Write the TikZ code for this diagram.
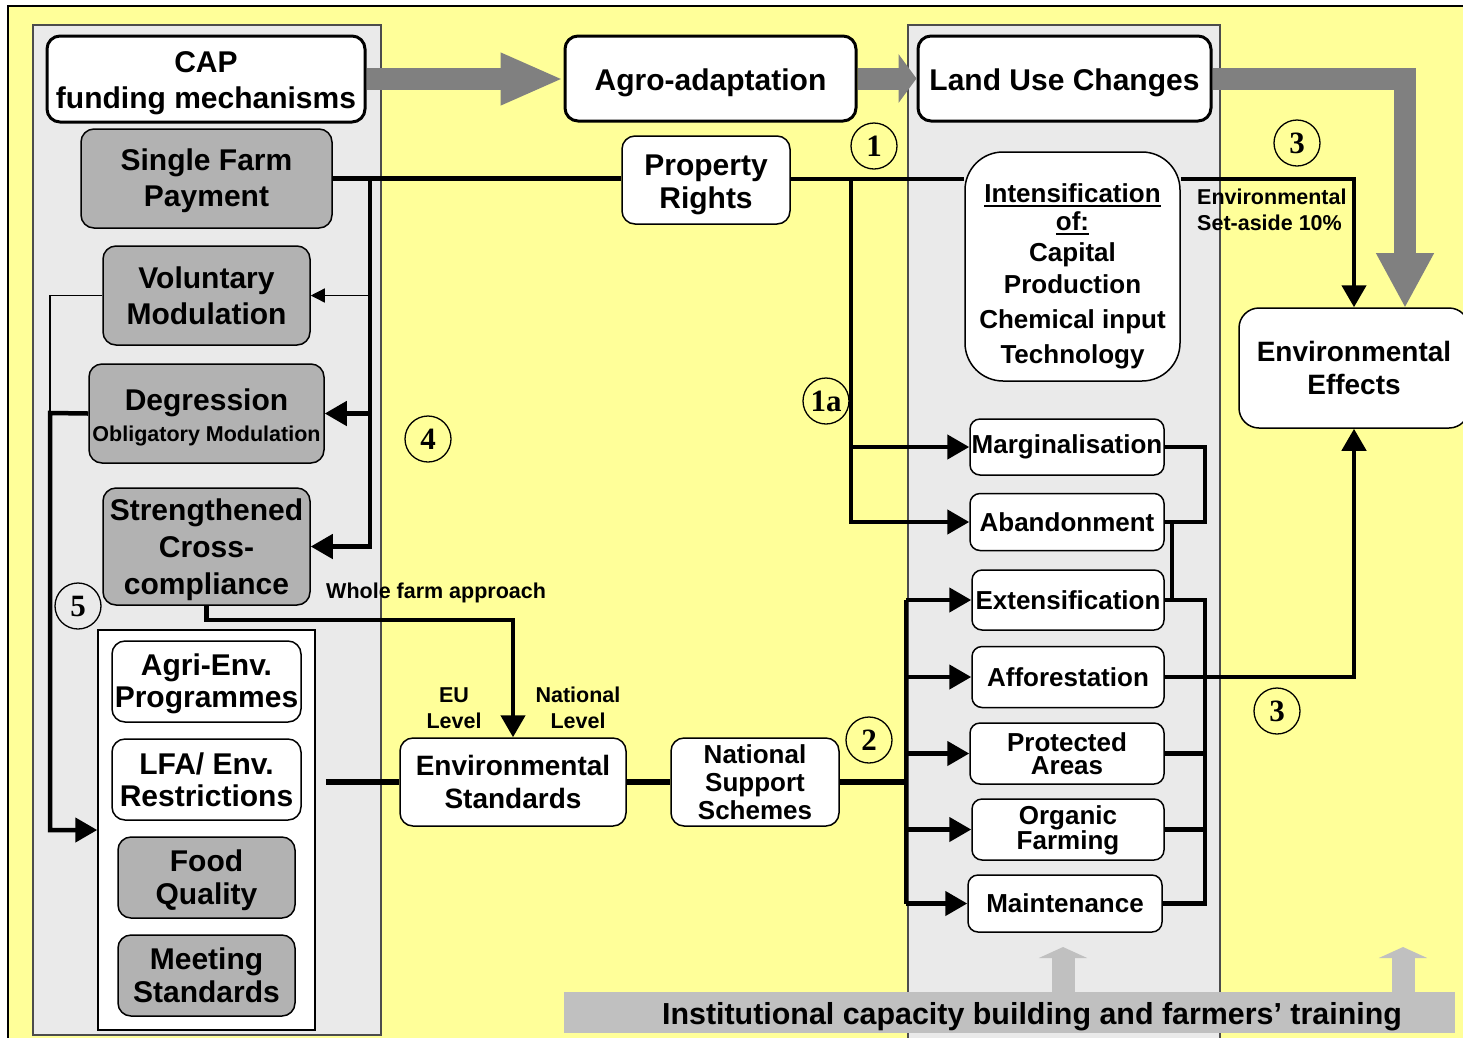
\documentclass[tikz,border=0pt]{standalone}
\usepackage{fontspec}
\setmainfont{Liberation Sans}
\newfontfamily\numfont{Liberation Serif}
\usetikzlibrary{arrows.meta}
\definecolor{bgyellow}{RGB}{255,255,153}
\definecolor{panelgray}{RGB}{234,234,234}
\definecolor{boxgray}{RGB}{178,178,178}
\definecolor{arrgray}{RGB}{128,128,128}
\definecolor{bargray}{RGB}{192,192,192}
\newcommand{\fsz}[2]{\fontsize{#1}{#2}\selectfont\bfseries}
\newcommand{\myul}[1]{\vtop{\hbox{#1}\kern2pt\hrule height 2pt}}
\newcommand{\st}[1]{\rule{0pt}{#1}}
\begin{document}
\begin{tikzpicture}[x=1pt,y=-1pt,
  box/.style={draw=black, line width=1.5pt, rounded corners=13pt, fill=white, align=center, inner sep=0pt, font=\fsz{30}{36}},
  gbox/.style={box, fill=boxgray},
  tbox/.style={box, line width=3pt},
  lu/.style={box, font=\fsz{26}{28}, rounded corners=10pt},
  conn/.style={line width=4.5pt},
  arr/.style={conn, -{Triangle[length=22pt,width=24pt]}},
  thinarr/.style={line width=1.3pt, -{Triangle[length=14pt,width=14pt]}},
  num/.style={circle, draw, line width=1.3pt, minimum size=46pt, inner sep=0pt, font=\numfont\bfseries\fontsize{31}{31}\selectfont},
  lab/.style={font=\fsz{21.5}{26}, align=center, inner sep=0pt},
  garr/.style={line width=22pt, draw=arrgray},
  panel/.style={line width=1.2pt, draw=black!70, fill=panelgray}
]
\useasboundingbox (0,0) rectangle (1463,1037);
\clip (0,0) rectangle (1463,1037);
\fill[white] (0,0) rectangle (1463,1037);
\draw[line width=1.5pt, fill=bgyellow] (8,6) rectangle (1480,1050);
\draw[panel] (33,25) rectangle (381,1035);
\draw[panel] (908,25) rectangle (1220,1045);

% left column
\node[tbox, minimum width=318pt, minimum height=86pt] (CAP) at (206,79) {\st{30pt}CAP\\funding mechanisms};
\node[gbox, minimum width=251pt, minimum height=99pt] (SFP) at (206.5,178.5) {\st{26pt}Single Farm\\Payment};
\node[gbox, minimum width=207pt, minimum height=99pt] (VM) at (206.5,295.5) {Voluntary\\Modulation};
\node[gbox, minimum width=235pt, minimum height=99pt, font=\fsz{30}{31}] (Deg) at (206.5,413.5) {\st{30pt}Degression\\{\fsz{21.5}{31}Obligatory Modulation}};
\node[gbox, minimum width=207pt, minimum height=117pt, font=\fsz{30}{37}] (SCC) at (206.5,546.5) {\st{28pt}Strengthened\\Cross-\\compliance};
\node[draw, line width=1.5pt, fill=white, minimum width=217pt, minimum height=400pt, inner sep=0pt] (Cont) at (206.5,830) {};
\node[box, minimum width=189pt, minimum height=81pt, font=\fsz{30}{32}] (AEP) at (206.5,681.5) {\st{26pt}Agri-Env.\\Programmes};
\node[box, minimum width=189pt, minimum height=81pt, font=\fsz{30}{32}] (LFA) at (206.5,779.5) {LFA/ Env.\\Restrictions};
\node[gbox, minimum width=177pt, minimum height=81pt, font=\fsz{30}{33}] (FQ) at (206.5,877.5) {\st{28pt}Food\\Quality};
\node[gbox, minimum width=177pt, minimum height=81pt, font=\fsz{30}{33}] (MS) at (206.5,975.5) {Meeting\\Standards};

% top and middle
\node[tbox, minimum width=291pt, minimum height=85pt] (Agro) at (710.5,78.5) {\st{30pt}Agro-adaptation};
\node[tbox, minimum width=293pt, minimum height=85pt] (Land) at (1064.5,78.5) {\st{30pt}Land Use Changes};
\node[box, minimum width=168pt, minimum height=88pt, font=\fsz{30}{33}] (PR) at (706,180) {\st{30pt}Property\\Rights};
\node[box, minimum width=215pt, minimum height=229pt, rounded corners=38pt, font=\fsz{26}{30}] (Int) at (1072.5,266.5)
  {\st{38pt}\myul{Intensification}\\[-2pt]\myul{of:}\\[1pt]Capital\\[2pt]Production\\[5pt]Chemical input\\[5pt]Technology};
\node[box, minimum width=230pt, minimum height=120pt, rounded corners=20pt, font=\fsz{28}{33}] (EE) at (1354,368) {Environmental\\Effects};
\node[box, minimum width=226pt, minimum height=88pt, font=\fsz{28}{33}] (ES) at (513,782) {Environmental\\Standards};
\node[box, minimum width=168pt, minimum height=88pt, font=\fsz{26}{28}] (NSS) at (755,782) {National\\Support\\Schemes};

% land use boxes
\node[lu, minimum width=194pt, minimum height=56pt] (Marg) at (1067,447) {Marginalisation};
\node[lu, minimum width=194pt, minimum height=57pt] (Aband) at (1067,522) {Abandonment};
\node[lu, minimum width=192pt, minimum height=60pt] (Ext) at (1068,600) {Extensification};
\node[lu, minimum width=192pt, minimum height=61pt] (Aff) at (1068,677) {Afforestation};
\node[lu, minimum width=194pt, minimum height=61pt, font=\fsz{26}{23}] (Prot) at (1067,753.5) {Protected\\Areas};
\node[lu, minimum width=192pt, minimum height=61pt, font=\fsz{26}{23}] (Org) at (1068,829.5) {\st{21pt}Organic\\Farming};
\node[lu, minimum width=194pt, minimum height=57pt] (Maint) at (1065,903.5) {Maintenance};

% labels
\node[lab, anchor=west, align=left, font=\fsz{21.5}{26}] (SetA) at (1197,210) {Environmental\\Set-aside 10\%};
\node[lab, anchor=west] (WFA) at (326,593) {Whole farm approach};
\node[lab] (EUL) at (454,708) {EU\\Level};
\node[lab] (NatL) at (578,708) {National\\Level};

% circled numbers
\node[num] (n1) at (874,146) {1};
\node[num] (n3a) at (1297,143) {3};
\node[num] (n1a) at (826,401) {1a};
\node[num] (n4) at (428,439) {4};
\node[num] (n5) at (78,606) {5};
\node[num] (n2) at (869,740) {2};
\node[num] (n3b) at (1277,711) {3};

% grey flow arrows
\draw[garr, -{Triangle[length=63pt,width=48pt]}] (CAP.east) -- (CAP.east -| Agro.west);
\draw[garr, -{Triangle[length=18pt,width=48pt]}] (Agro.east) -- (Agro.east -| Land.west);
\coordinate (gtip) at (1405,308);
\draw[garr, -{Triangle[length=55pt,width=54pt]}] (Land.east) -| (gtip);

% coordinates for buses
\coordinate (v1) at (370,179);
\coordinate (l1) at (50,413);
\coordinate (b1) at (851,179);
\coordinate (bus) at (906,600);
\coordinate (rb) at (1205,447);
\coordinate (rc) at (1172,522);

% property rights line
\draw[conn] (SFP.east) -- (SFP.east -| PR.west);
\draw[conn] (PR.east |- v1) -- (v1 -| Int.west);
\draw[arr] (v1 -| Int.east) -| (EE.north);

% left vertical distribution
\draw[arr] (v1) |- (SCC.east);
\draw[arr] (v1 |- Deg.east) -- (Deg.east);
\draw[thinarr] (v1 |- VM.east) -- (VM.east);

% left loop
\draw[line width=1.3pt] (VM.west) -| (l1);
\draw[arr] (Deg.west) -- (l1) -- (l1 |- Cont.west) -- (Cont.west);

% whole farm approach
\draw[arr] (SCC.south) -- ++(0,14) -| (ES.north);

% bottom chain
\draw[line width=6pt] ([xshift=10pt]Cont.east |- ES.west) -- (ES.west);
\draw[line width=6pt] (ES.east) -- (NSS.west);
\draw[line width=6pt] (NSS.east) -- (bus |- NSS.east);
\draw[conn] (bus |- Ext.west) -- (bus |- Maint.west);
\draw[arr] (bus |- Ext.west) -- (Ext.west);
\draw[arr] (bus |- Aff.west) -- (Aff.west);
\draw[arr] (bus |- Prot.west) -- (Prot.west);
\draw[arr] (bus |- Org.west) -- (Org.west);
\draw[arr] (bus |- Maint.west) -- (Maint.west);

% branch 1a
\draw[arr] (b1) |- (Aband.west);
\draw[arr] (b1 |- Marg.west) -- (Marg.west);

% right bracket
\draw[conn] (Marg.east) -| (rb |- Aband.east) -- (Aband.east);
\draw[conn] (rc) -- (rc |- Ext.east);
\draw[conn] (Ext.east) -- (rb |- Ext.east) -- (rb |- Maint.east) -- (Maint.east);
\draw[conn] (Prot.east) -- (rb |- Prot.east);
\draw[conn] (Org.east) -- (rb |- Org.east);
\draw[arr] (Aff.east) -| (EE.south);

% bottom bar
\node[fill=bargray, minimum width=891pt, minimum height=41pt, inner sep=0pt, anchor=north west] (bar) at (564,992) {};
\node[font=\fsz{30.4}{36}, inner sep=0pt] (bartext) at (1032,1017) {Institutional capacity building and farmers’ training};
\coordinate (u1) at (1063,947);
\coordinate (u2) at (1403,947);
\draw[line width=23pt, draw=bargray, -{Triangle[length=11pt,width=48pt]}] (bar.north -| u1) -- (u1);
\draw[line width=23pt, draw=bargray, -{Triangle[length=11pt,width=48pt]}] (bar.north -| u2) -- (u2);
\end{tikzpicture}
\end{document}
